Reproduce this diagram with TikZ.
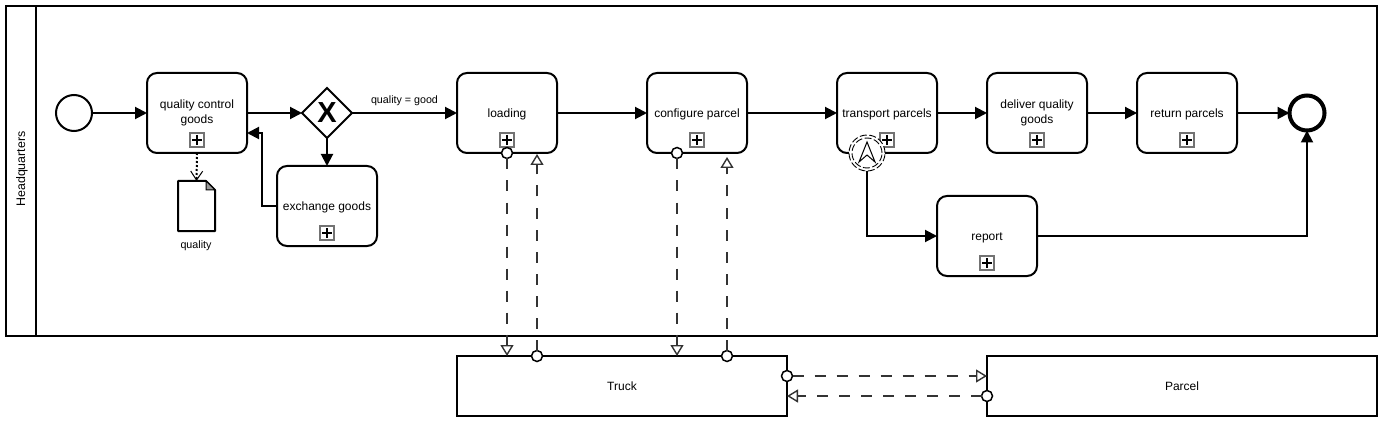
\documentclass[tikz,border=0pt]{standalone}
\usepackage{fontspec}
\setmainfont{Liberation Sans}
\usetikzlibrary{arrows.meta,shapes.geometric}
\definecolor{msggray}{HTML}{333333}
\tikzset{
  flow/.style={line width=2pt,-{Triangle[length=12pt,width=12pt]}},
  msgflow/.style={line width=1.2pt,draw=msggray,dash pattern=on 11pt off 11pt,-{Triangle[open,length=11pt,width=13pt,line width=1.4pt,fill=white]}},
  task/.style={draw,line width=2pt,rectangle,rounded corners=10pt,minimum width=100pt,minimum height=80pt,inner sep=0pt,outer sep=0pt,align=center,font=\fontsize{12}{14.5}\selectfont},
  oneline/.style={text height=10pt,text depth=1.5pt},
  band/.style={draw,line width=2pt,rectangle,inner sep=0pt,outer sep=0pt,font=\fontsize{12}{14.5}\selectfont},
  plusbox/.style={draw=black!55,line width=1.2pt,fill=white,rectangle,minimum size=14pt,inner sep=0pt,outer sep=0pt,
    path picture={\draw[black,line width=2pt] (path picture bounding box.center)+(-5,0)--+(5,0) (path picture bounding box.center)+(0,-5)--+(0,5);}},
  msgdot/.style={draw,line width=1.5pt,circle,fill=white,minimum size=11pt,inner sep=0pt,outer sep=0pt},
  small/.style={inner sep=0pt,font=\fontsize{10.7}{13}\selectfont},
}
\begin{document}
\begin{tikzpicture}[x=1pt,y=-1pt,>=latex]
\useasboundingbox (0,0) rectangle (1383,422);
% pool
\node[band,minimum width=1371pt,minimum height=330pt] (pool) at (691.5,171) {};
\draw[line width=2pt] (36,6)--(36,336);
\node[rotate=90,inner sep=0pt,font=\fontsize{12.4}{14.5}\selectfont] (hq) at (22,169) {Headquarters};
% events and tasks
\node[draw,line width=2pt,circle,minimum size=36pt,inner sep=0pt,outer sep=0pt] (start) at (74,113) {};
\node[task] (qc) at (197,113) {quality control\\goods};
\node[draw,line width=2pt,diamond,minimum width=50pt,minimum height=50pt,inner sep=0pt,outer sep=0pt,font=\fontsize{29}{29}\selectfont\bfseries] (gw) at (327,113) {X};
\node[task,oneline] (exch) at (327,206) {exchange goods};
\node[task,oneline] (load) at (507,113) {loading};
\node[task,oneline] (conf) at (697,113) {configure parcel};
\node[task,oneline] (trans) at (887,113) {transport parcels};
\node[task] (deliv) at (1037,113) {deliver quality\\goods};
\node[task,oneline] (ret) at (1187,113) {return parcels};
\node[task,oneline] (rep) at (987,236) {report};
\node[draw,line width=4pt,circle,minimum size=35pt,inner sep=0pt,outer sep=0pt] (end) at (1307,113) {};
\node[plusbox] (qcp) at (197,140) {};
\node[plusbox] (exp) at (327,233) {};
\node[plusbox] (lop) at (507,140) {};
\node[plusbox] (cop) at (697,140) {};
\node[plusbox] (trp) at (887,140) {};
\node[plusbox] (dep) at (1037,140) {};
\node[plusbox] (rtp) at (1187,140) {};
\node[plusbox] (rpp) at (987,263) {};

% data object
\node[minimum width=37pt,minimum height=50pt,inner sep=0pt,outer sep=0pt] (doc) at (196.5,206) {};
\draw[line width=2pt,line join=round] (doc.north west)--(206,181)--(215,190)--(doc.south east)--(doc.south west)--cycle;
\draw[line width=1pt,fill=black!40] (206,181)--(206,190)--(215,190)--cycle;
\node[small] (doclab) at (196,245.5) {quality};
\draw[line width=2pt,dotted,-{Straight Barb[length=9pt,width=12pt,line width=1pt]}] (qc.south)--(doc.north);

% sequence flows
\draw[flow] (start)--(qc);
\draw[flow] (qc)--(gw);
\draw[flow] (gw)--node[small,above=6pt,pos=.5] (goodlab) {quality = good} (load);
\draw[flow] (gw)--(exch);
\coordinate (qcback) at (qc.east|-0,133);
\draw[flow] (exch.west)-|(262,133)--(qcback);
\draw[flow] (load)--(conf);
\draw[flow] (conf)--(trans);
\draw[flow] (trans)--(deliv);
\draw[flow] (deliv)--(ret);
\draw[flow] (ret)--(end);
\draw[flow] (rep.east)-|(end.south);

% boundary event
\node[draw,line width=.9pt,dash pattern=on 7pt off 2.5pt,circle,fill=white,minimum size=36pt,inner sep=0pt,outer sep=0pt] (bev) at (867,153) {};
\node[draw,line width=.9pt,dash pattern=on 7pt off 2.5pt,circle,minimum size=30pt,inner sep=0pt,outer sep=0pt] (bevin) at (867,153) {};
\draw[line width=1pt,line join=miter] (bev.center)++(0,-11)--++(-8,20)--++(8,-7)--++(8,7)--cycle;
\draw[flow] (bev.south)|-(rep.west);

% pools below
\node[band,minimum width=330pt,minimum height=60pt] (truck) at (622,386) {Truck};
\node[band,minimum width=390pt,minimum height=60pt] (parcel) at (1182,386) {Parcel};

% message flows
\node[msgdot] (loadout) at (507,153) {};
\node[msgdot] (confout) at (677,153) {};
\node[msgdot] (truckup) at (537,356) {};
\node[msgdot] (truckuq) at (727,356) {};
\node[msgdot] (truckout) at (787,376) {};
\node[msgdot] (parcout) at (987,396) {};
\coordinate (loadin) at (537,154);
\coordinate (confin) at (727,157);
\coordinate (truckin) at (507,356);
\coordinate (truckio) at (677,356);
\coordinate (parcin) at (987,376);
\coordinate (truckib) at (787,396);
\draw[msgflow] (loadout)--(truckin);
\draw[msgflow] (truckup)--(loadin);
\draw[msgflow] (confout)--(truckio);
\draw[msgflow] (truckuq)--(confin);
\draw[msgflow] (truckout)--(parcin);
\draw[msgflow] (parcout)--(truckib);
\end{tikzpicture}
\end{document}
